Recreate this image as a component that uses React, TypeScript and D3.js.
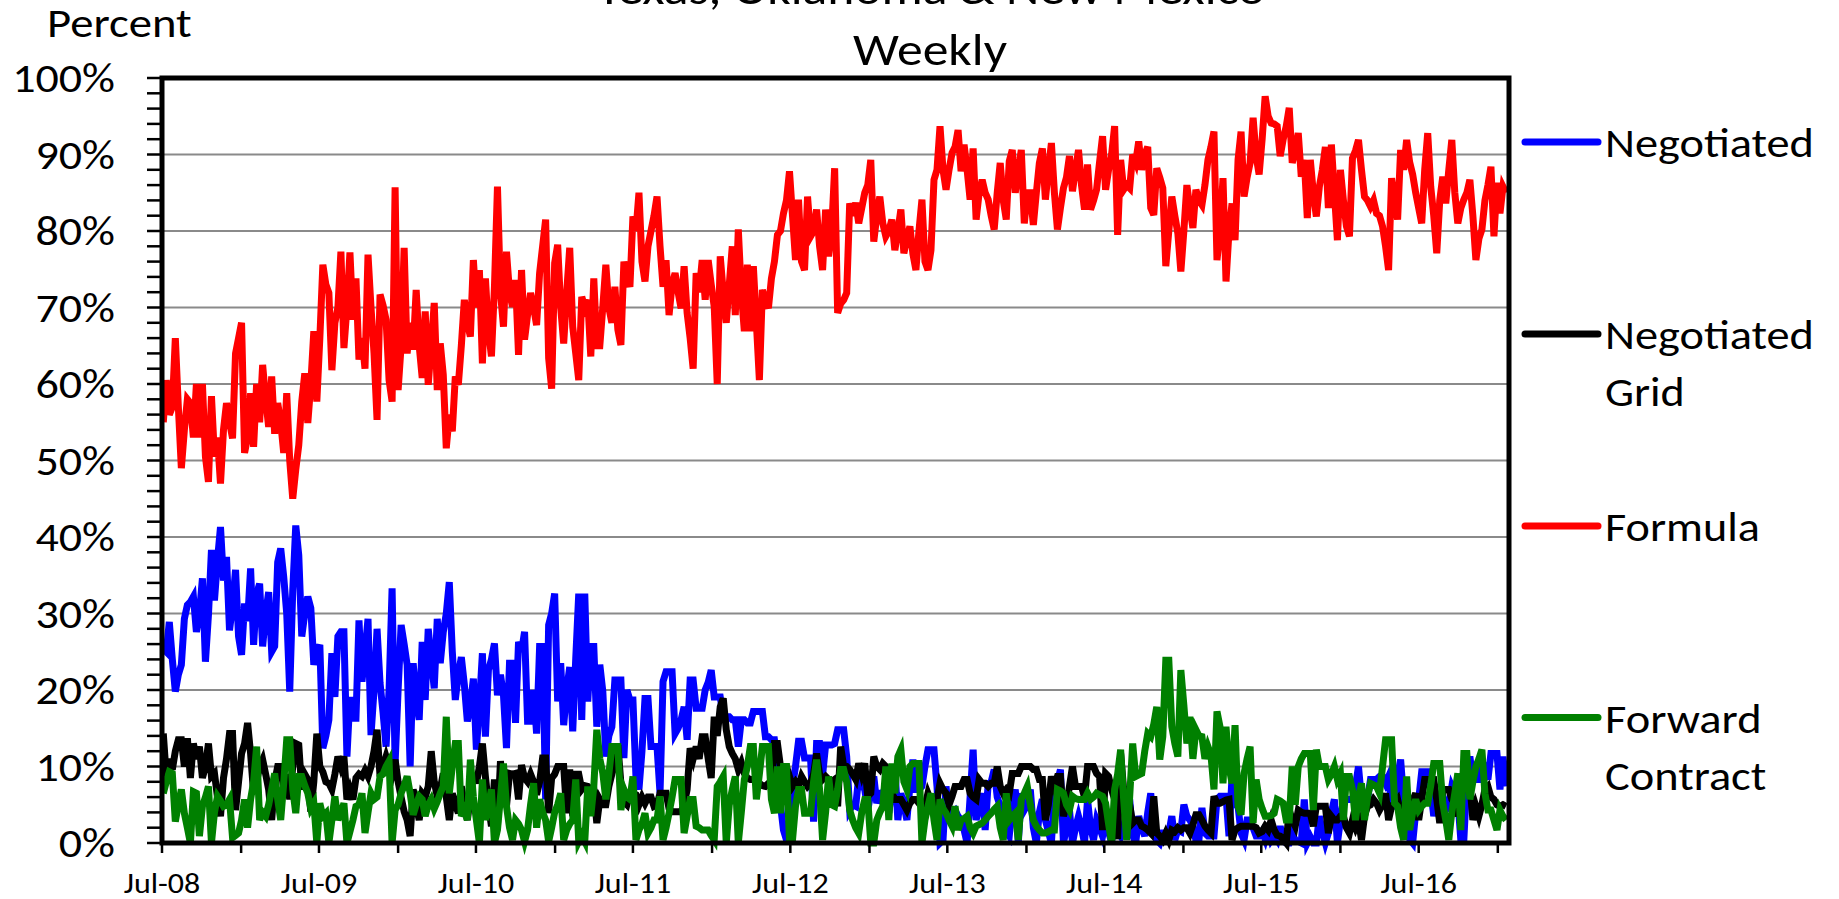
import React from "react";
import * as d3 from "d3";

// ---------------- DATA ----------------
const titleLines = ["Texas, Oklahoma & New Mexico", "Weekly"];
const yAxisTitle = "Percent";
const firstWeek = new Date(2008, 6, 4);
const xDomain: [Date, Date] = [new Date(2008, 6, 1), new Date(2017, 0, 27)];
const yTickValues = [0, 10, 20, 30, 40, 50, 60, 70, 80, 90, 100];
const seriesNames = ["Negotiated", "Negotiated Grid", "Formula", "Forward Contract"];
const legendLines = [["Negotiated"], ["Negotiated", "Grid"], ["Formula"], ["Forward", "Contract"]];
const seriesColors = ["#0000ff", "#000000", "#ff0000", "#008000"];

// weekly percentages, first week of July 2008 onward
const negotiated = [
  25.4, 25, 28.9, 24, 19.8, 22, 23.3, 29.3, 31.1, 31.5, 32.2, 27.6, 30, 34.6, 23.7, 29.8, 38.3, 31.7, 37, 41.3, 34.3, 37.4, 27.8, 31, 35.7, 27,
  24.6, 31.3, 29, 35.9, 25.9, 32.6, 33.9, 25.7, 30, 32.8, 25, 25.7, 36.7, 38.5, 34.8, 30, 19.8, 33, 41.5, 37.6, 27, 30, 32.2, 30.7, 23.3, 25,
  25.9, 12.4, 14, 16.1, 24.8, 19.1, 27, 27.6, 27.6, 11.3, 19.1, 16.3, 16.3, 29.1, 21.1, 25, 29.3, 14.1, 20, 28, 20.9, 17, 12.6, 20, 33.3, 10.4,
  20, 28.5, 26, 23.3, 10, 23.5, 19, 16.1, 26.3, 18.7, 28, 24, 20.2, 29.3, 23.5, 27.6, 30, 34.1, 25, 18.7, 22, 24.3, 20.7, 15.9, 18, 21.5,
  12.2, 18, 24.8, 13.9, 22.6, 24, 26.1, 19.3, 22, 19.3, 12.4, 23.5, 23.5, 15.7, 26.3, 25, 27.6, 15.9, 15.9, 20, 14.3, 25.7, 25.7, 5.7, 28.5, 30,
  32.6, 18.5, 23.5, 15.4, 20, 23, 14.6, 24.1, 32.6, 16.1, 32.6, 18.5, 25.7, 25.7, 15.2, 23.3, 19.8, 11.3, 14, 15.2, 21.3, 21.3, 21.3, 11.1, 20, 18.7,
  18.7, 8.7, 7, 12, 18.9, 18.9, 12.6, 12.6, 12.6, 6.5, 21.1, 22.4, 22.4, 22.4, 14.3, 15, 16.1, 17.8, 13.5, 21.3, 21.3, 17.6, 17.6, 17.6, 20, 21,
  22.6, 19.1, 19.1, 19.1, 16.5, 16.5, 16.5, 16.1, 16.1, 12.6, 16.1, 16.1, 15.7, 15.7, 17.2, 17.2, 17.2, 17.2, 13.9, 13.9, 13.5, 13.5, 10.4, 5, 1.7, 0.4,
  0.4, 7.4, 10, 13.3, 13.3, 11.1, 11.1, 11.1, 2.8, 13, 13, 8.9, 12.8, 12.8, 12.8, 13, 14.8, 14.8, 14.8, 11.3, 4.3, 5, 4.8, 8.7, 7.5, 7,
  4.3, 6.5, 8.7, 5.2, 6.5, 6.5, 7.4, 3.9, 7, 10, 3, 6.5, 5, 3, 7.4, 10.9, 7, 7, 7.4, 10, 12.2, 12.2, 12.2, 7.4, 0, 0.4,
  7.4, 3, 4, 4.3, 3.5, 3, 1.7, 0, 6, 12.2, 3, 5, 6.5, 1.7, 7.8, 8, 9.6, 6, 4.8, 1.7, 1.5, 0.9, 5, 7, 0, 6.5,
  4.3, 5, 7, 2, 0, 4, 5.7, 3, 1.5, 0, 6.5, 8, 9.6, 0, 2, 4.3, 0, 2, 3.5, 2, 0, 5.7, 2, 0.4, 3, 2,
  0.9, 3, 1.5, 0, 4.3, 1.5, 0.9, 2.2, 4, 5.7, 1, 0, 3.5, 2, 0.9, 4, 6.5, 1, 0.4, 0, 1.3, 1.3, 1.3, 3.5, 0.4, 1.7,
  1.5, 5, 3.5, 3, 2.2, 0.4, 0.4, 4.6, 1.3, 0.9, 0.9, 0.9, 5.7, 6.1, 6.1, 6.1, 0.9, 8.7, 5, 4.8, 1.3, 0.4, 3, 3, 2, 0.9,
  0.9, 1.5, 0.5, 2, 0.4, 1, 0.4, 2.2, 0.2, 0, 0, 1.2, 0.4, 0.2, 0, 5.7, 0, 0.8, 0, 0, 3.5, 1.5, 0, 1.3, 4, 5.7,
  0, 3, 5.7, 5.7, 5.7, 5.7, 7.4, 10, 5.7, 5.7, 5.7, 8.3, 8.3, 8.3, 8.7, 8.7, 7.8, 8.7, 4.8, 4.8, 8.7, 10.9, 5.7, 1.7, 0.5, 0,
  4, 5.7, 9.3, 9.3, 9.3, 7, 3.5, 5.7, 6, 6.1, 4.3, 5, 7.4, 6.5, 5.7, 0.4, 0.4, 8.3, 11.3, 8.3, 8.3, 8.3, 10.9, 9.5, 8.3, 11.7,
  11.7, 11.7, 7, 11.3, 7.4,
];

const negotiatedGrid = [
  14.3, 8.7, 11, 9.6, 12, 13.5, 13.5, 10, 13.7, 8.5, 13, 11, 12.6, 8.5, 10, 13, 8.7, 9.1, 6, 3.5, 8.5, 11, 14.3, 14.3, 4.3, 8,
  11.7, 13, 15.7, 11.7, 6.5, 8, 10, 10.9, 9, 7, 3, 8, 10, 10, 7, 9, 5.7, 10, 13, 12.8, 7, 9, 8.3, 4.1, 8, 14.3,
  10, 9.3, 8, 7.8, 7, 9, 11.3, 10, 11.3, 5.7, 7, 5.7, 8.5, 9, 8.7, 9.5, 8.7, 10, 12, 14.8, 8.7, 10, 11.3, 10, 9, 10.9,
  8, 6, 4.1, 3, 0.9, 7, 5, 3, 6.5, 6, 7.4, 12, 8, 6.1, 7, 9.1, 6, 3, 6.5, 5, 3.9, 7.4, 5, 3, 6, 9.1,
  7.8, 10, 13, 8.7, 5, 2.2, 8.3, 2.2, 10.7, 6, 4.8, 9.1, 9, 9.1, 5.7, 10.2, 8.5, 8, 9, 8, 6.3, 8, 11.1, 11.1, 3.9, 8.5,
  9, 10, 10, 10, 3.9, 9.6, 3.5, 9, 9, 7, 7.5, 7.4, 7, 7, 2.6, 5.7, 5, 5, 7.4, 9, 10.4, 12.8, 7.8, 5.4, 5, 6.5,
  6.5, 6.3, 5, 6, 5.2, 6, 6, 4.8, 5, 6.5, 6.5, 6.5, 4.5, 4.1, 4.1, 4.1, 4.1, 5, 7, 12.4, 11, 12.6, 11, 13.9, 13.9, 11,
  8.5, 16.5, 14, 17.8, 18.9, 14.8, 12.6, 11.7, 11, 9.6, 10.5, 9.1, 8.5, 8.3, 8.3, 8, 7.8, 7.5, 7.4, 7.8, 8, 13, 13, 10, 10, 10,
  8.7, 7.4, 8, 7.4, 8.7, 8, 7.4, 7.8, 9, 11.7, 9, 8.3, 8.7, 8.3, 8, 8.3, 4.8, 12.6, 10, 10, 9.6, 9, 8.3, 10.4, 9, 10.4,
  6.1, 6.5, 11.3, 10, 9.6, 10.4, 10, 7.4, 6.5, 5.7, 5.7, 5.7, 5, 4.3, 5.2, 5.7, 5.7, 5.2, 5.2, 4.8, 6.5, 5.5, 5.2, 5.7, 7.8, 7,
  6.5, 5, 6.1, 7.4, 7.4, 7.4, 8.3, 8.3, 6.5, 6, 5.7, 8.3, 7.8, 7.8, 7.4, 7.8, 7.8, 10, 7.4, 6.5, 7, 6.5, 9.1, 9.1, 9.1, 10,
  10, 10, 10, 9.6, 9.6, 8.3, 8.3, 3, 5, 8.7, 7.4, 8.7, 8.7, 3.5, 5, 7.4, 10, 7.4, 7.4, 7.4, 6, 10, 10, 10, 9.1, 8.7,
  1.7, 9.1, 8.7, 7, 5.7, 0.5, 11.7, 7, 7, 5, 2.6, 3, 3, 2.2, 2, 1.7, 1.3, 6.1, 1.3, 0.9, 0.4, 1.3, 0.4, 1.7, 1.5, 2,
  1.7, 2, 2, 1.3, 2.4, 3.7, 3.7, 3, 2.2, 1.7, 1.3, 6.1, 5.2, 5.2, 5.4, 5.6, 5.7, 0.4, 1.7, 2, 2.2, 2.2, 2.2, 2.2, 2.2, 2,
  1.3, 1.5, 2.2, 1.7, 3, 1.7, 1, 0.9, 0.5, 0, 4.3, 3, 2.2, 4.3, 4, 3.9, 3.9, 3.9, 2.2, 4.8, 4.8, 4.8, 4.8, 1.3, 3.5, 3,
  3, 3.5, 3.5, 2, 1.3, 3, 2, 3, 0.4, 3.5, 4.8, 5, 5.7, 5.2, 4.3, 5, 6.5, 3, 4.8, 5.2, 5.7, 4, 3, 6.1, 2.6, 5.5,
  6.5, 3, 5.7, 8.3, 8.3, 8.3, 8.3, 5.7, 2.6, 7, 7, 7, 5.7, 5.2, 3.5, 5.7, 8.3, 8, 7.8, 3, 4.8, 3.5, 5, 7, 7.4, 6,
  5.7, 5, 4.8, 5, 4.8,
];

const formula = [
  55, 60.5, 56, 57, 66, 57, 49, 54, 58, 57.5, 53, 60, 53, 60, 50.5, 47.2, 58.4, 50.5, 53, 47, 54, 57.5, 55, 52.9, 64, 66,
  68, 51, 53, 58.8, 51.8, 60, 55, 62.5, 58, 54.4, 61, 53.5, 57.5, 55, 51, 58.8, 50, 45, 48.8, 52, 57.7, 61.4, 54.9, 60, 66.9, 57.7,
  66, 75.6, 73, 71.9, 61.8, 68, 70, 77.3, 64.7, 70, 77.2, 68.4, 73.8, 63.2, 66, 62, 76.9, 70, 64, 55.3, 71.7, 70.3, 68.4, 60.5, 57.7, 85.7,
  59.2, 65, 77.8, 64, 68, 64.5, 72.3, 65, 60.8, 69.5, 59.9, 65, 70.6, 59.2, 65.3, 61.2, 51.6, 56, 53.8, 61, 59.9, 65, 71, 68, 66.2, 76.2,
  70, 74.9, 62.7, 73.8, 67, 63.6, 72.7, 85.8, 72, 67.5, 77.3, 72, 70.1, 73.6, 63.8, 74.9, 65.8, 69, 71.9, 70, 67.7, 74.5, 78, 81.5, 63.4, 59.4,
  75.8, 78.2, 70, 65.3, 72, 77.8, 67.5, 64, 60.5, 71.4, 70, 71, 63.6, 73.8, 65, 65, 70.1, 75.6, 70, 68, 72.7, 67.1, 65.1, 76, 74, 72.7,
  81.9, 80, 85, 76, 73.4, 78, 80, 82, 84.5, 78, 72.7, 76.2, 69, 73, 74.5, 72, 69.9, 75.4, 69.3, 66, 62, 74.5, 72, 76.2, 71, 76.2,
  73, 70.1, 60, 76.7, 72, 68, 73, 78, 69, 80.2, 72, 66.9, 75.6, 66.9, 75.4, 68, 60.5, 72.3, 71, 69.9, 73.8, 76, 79.5, 80, 82.3, 84,
  87.8, 82, 76.2, 84.1, 76, 74.9, 84.5, 79.3, 80, 82.8, 78, 74.9, 82.8, 76.7, 80, 88.2, 69.3, 70.5, 71, 71.9, 83.6, 82, 83.7, 81, 83, 85,
  86, 89.3, 78.6, 82, 84.5, 81, 79.3, 80, 81.5, 77.5, 80, 82.8, 77.1, 79, 80.6, 77, 74.9, 80, 84.1, 76, 74.9, 77.5, 86.7, 88, 93.7, 88,
  85.4, 88, 90.2, 91, 93.2, 87.8, 91.3, 88, 84.1, 90.8, 81.5, 85, 86.7, 85, 84.1, 82, 80.2, 85, 88.9, 84, 81.5, 89.1, 90.6, 85, 88, 90.6,
  81, 85, 85, 80.8, 85, 88.9, 90.8, 84.1, 88, 91.5, 85, 80.2, 83, 85.6, 87, 89.8, 85.2, 88, 90.6, 86, 82.8, 88.7, 82.8, 84, 85.4, 89,
  92.4, 85.4, 88, 90, 93.7, 79.5, 89.3, 85.4, 86, 85.6, 90, 89, 91.7, 88, 90, 91, 83, 82.1, 88.2, 87, 85.6, 75.4, 80, 84.5, 82, 79.7,
  74.7, 80, 86, 83, 80.4, 85.4, 84, 83.4, 86, 89.3, 91, 93, 76.2, 80, 86.9, 73.4, 80, 83.6, 78.8, 89.3, 93, 84.5, 87, 88.9, 94.8, 89.8,
  87.4, 92, 97.6, 95, 94.1, 94, 93.7, 89.8, 92, 93.7, 96.1, 88.9, 90.5, 92.8, 87.1, 89.3, 81.7, 89.3, 85, 81.9, 85.8, 88, 91, 83, 91.3, 85,
  78.8, 88, 84, 80.6, 79.3, 89.5, 90.5, 91.9, 88, 84.5, 84, 83.2, 84, 82.3, 82, 80.6, 78, 74.9, 86.9, 84, 81.5, 90.6, 88, 91.9, 89, 87.4,
  85, 83, 81, 88, 92.8, 85.8, 82, 77.1, 84, 87.1, 83.6, 88, 91.9, 85, 81, 83, 84.1, 85, 86.7, 82, 76.2, 79, 80.2, 84, 86, 88.4,
  79.3, 86.3, 82.3, 85.8, 85,
];

const forwardContract = [
  6.5, 8, 9.3, 9.1, 2.8, 5, 7, 3.9, 2, 0, 6.7, 6.5, 0.9, 4.8, 6, 7.4, 0, 4, 6.1, 5.5, 4.8, 5, 5.7, 0.7, 1, 1.3,
  3, 5.7, 2, 5.7, 8, 12.6, 3, 4, 3.5, 5, 7, 9.1, 5.7, 3, 7.8, 13.5, 13.5, 7, 3.9, 8.7, 8.7, 7.5, 6.5, 4.5, 5.2, 0,
  5.2, 3.5, 3.9, 0, 3, 6.1, 3, 4, 5.2, 0, 1.5, 3, 4.8, 5, 6.5, 1.3, 4, 6.5, 5.7, 6, 8.7, 9, 10, 10.7, 0, 4.3,
  5, 6.5, 7.5, 8.7, 6.5, 3.7, 5, 6.1, 5.7, 3.5, 5, 5.7, 4.5, 5.4, 6.5, 7.4, 16.5, 6.5, 10, 13, 13, 3.5, 4.3, 3, 10.9, 6,
  3, 0, 8.3, 3, 5, 7, 0, 1.7, 6, 10.4, 4.8, 2, 0.4, 3, 2.5, 1.7, 0.2, 1.7, 5, 7.8, 2, 5.7, 4, 3, 0.2, 2,
  4, 5, 6.5, 0.4, 1.7, 2.5, 3, 8.3, 0.2, 1, 0.2, 7.4, 3.5, 7.4, 14.8, 11, 9.1, 5.7, 9, 12.6, 12.6, 12.6, 4.3, 7, 6, 5.7,
  8.7, 0.4, 1.7, 2.5, 3.9, 1.3, 2, 3, 3, 6.1, 0.4, 2, 3.9, 6, 8.3, 8.3, 8.3, 1.3, 3.5, 5.7, 5.7, 2.2, 2, 1.7, 1.7, 1.7,
  1, 0.4, 7.4, 8, 8.7, 0, 5, 7, 8.7, 0, 4, 8.3, 10, 12.6, 12.6, 5.7, 9, 12.6, 12.6, 12.6, 5.7, 3.9, 10, 3.9, 10, 10,
  0.4, 0.4, 4.8, 7, 7, 3.9, 3.9, 3.9, 8, 10.9, 7, 0.4, 4, 8.7, 5, 4.8, 7, 9.6, 9.6, 8, 4.3, 3, 2, 1.3, 4, 5.7,
  5.7, 0, 0, 3, 4, 4.8, 10, 3, 10.4, 6.5, 11.3, 12.2, 8, 7, 10, 10.4, 10.4, 10.4, 0, 3, 4.8, 6.5, 3, 0.4, 5.7, 4.5,
  3.9, 3, 2.2, 4.8, 1.7, 3, 3.2, 3.5, 2, 1.3, 2.2, 2.4, 2.6, 3, 3.5, 3.9, 4.4, 4.8, 2, 0.4, 6.5, 3, 3.5, 3.9, 0.4, 5.7,
  6.5, 7.4, 5, 3, 2.2, 1.7, 1.3, 1.3, 1.5, 1.7, 1.7, 7, 6.8, 6.5, 5, 4.3, 6.1, 5.8, 5.7, 5.7, 5.7, 6.5, 5.7, 6, 6.5, 6.3,
  6.1, 5.2, 2.5, 0, 7, 9, 12.2, 5.7, 0.4, 6, 13, 8.7, 8.9, 9.1, 12, 14.3, 13.9, 15.5, 17.8, 10.9, 13.9, 23.9, 23.9, 15.2, 13, 11.3,
  22.6, 18, 13, 16.5, 11, 14.8, 14, 13.9, 11, 12.6, 11.5, 7, 17.2, 15.2, 7.8, 15.2, 10, 7.8, 15.4, 4.8, 3.7, 9.1, 11, 12.6, 2.6, 8.3,
  5.7, 4.5, 3.5, 3.5, 3.6, 3.9, 5.7, 5.5, 5.2, 3, 3, 10, 5, 10, 11, 11.7, 11.7, 11.7, 4.3, 12.2, 10, 10, 10, 8.3, 9, 10,
  8.3, 9.1, 3, 8.7, 8.7, 7, 3, 6, 7.8, 3, 6, 7.8, 7.6, 7.4, 6.5, 10, 13.5, 13.5, 13.5, 5.2, 4.8, 2, 0.4, 8.7, 1.7, 4,
  5.7, 4.3, 4.8, 5.2, 5.2, 7.5, 10.4, 10.4, 10.4, 5.2, 3, 0.4, 4, 6.5, 9.1, 1.7, 11.7, 11.7, 5.7, 8, 10, 11, 12.2, 6.5, 4.3, 4.3,
  3, 1.7, 4.3, 3.5, 3,
];

const seriesValues = [negotiated, negotiatedGrid, formula, forwardContract];

// ---------------- STYLE ----------------
const FONT = "Calibri, Carlito, Lato, 'Open Sans', sans-serif";
const SIZE_FACTOR = 0.9; // Lato cap height vs Calibri
const CW: Record<string, number> = {
  "0": 0.507, "1": 0.507, "2": 0.507, "3": 0.507, "4": 0.507, "5": 0.507, "6": 0.507, "7": 0.507, "8": 0.507, "9": 0.507,
  "%": 0.715, "-": 0.306, " ": 0.226, ",": 0.25, "&": 0.682,
  J: 0.319, P: 0.517, W: 0.89, N: 0.646, G: 0.631, F: 0.459, C: 0.533, T: 0.487, O: 0.662, M: 0.855,
  a: 0.479, c: 0.423, d: 0.525, e: 0.498, g: 0.471, h: 0.525, i: 0.229, k: 0.455, l: 0.229, m: 0.799,
  n: 0.525, o: 0.527, r: 0.349, s: 0.391, t: 0.335, u: 0.525, w: 0.715, x: 0.433, y: 0.453, b: 0.525,
};
const textW = (s: string, size: number) => s.split("").reduce((a, ch) => a + (CW[ch] ?? 0.5), 0) * size;

function T(props: { x: number; y: number; size: number; text: string; anchor?: "start" | "middle" | "end" }) {
  const { x, y, size, text, anchor = "start" } = props;
  return (
    <text
      x={x}
      y={y}
      fontFamily={FONT}
      fontSize={size * SIZE_FACTOR}
      textAnchor={anchor}
      textLength={textW(text, size)}
      lengthAdjust="spacingAndGlyphs"
      fill="#000"
    >
      {text}
    </text>
  );
}

export default function App() {
  const W = 1839;
  const H = 899;
  const left = 162;
  const right = 1509;
  const top = 78;
  const bottom = 843;

  const x = d3.scaleTime().domain(xDomain).range([left, right]);
  const y = d3.scaleLinear().domain([0, 100]).range([bottom, top]);
  const dates = negotiated.map((_, i) => d3.timeWeek.offset(firstWeek, i));
  const line = d3
    .line<number>()
    .x((_, i) => x(dates[i]))
    .y((d) => y(d));

  const xTicks = d3.timeMonth.every(6)!.range(xDomain[0], xDomain[1]);
  const fmt = d3.timeFormat("%b-%y");
  const minorY = d3.range(0, 101, 2);

  const legendY = [142, 334, 526, 717.5];

  return (
    <svg
      width={W}
      height={H}
      viewBox={`0 0 ${W} ${H}`}
      style={{ position: "absolute", left: 0, top: 0, display: "block", background: "#fff" }}
    >
      <rect x={0} y={0} width={W} height={H} fill="#fff" />

      {/* titles */}
      <T x={931} y={4} size={51} text={titleLines[0]} anchor="middle" />
      <T x={930} y={65} size={51} text={titleLines[1]} anchor="middle" />
      <T x={47} y={36.7} size={46} text={yAxisTitle} />

      {/* gridlines */}
      {yTickValues
        .filter((v) => v > 0 && v < 100)
        .map((v) => (
          <line key={"g" + v} x1={left} x2={right} y1={y(v)} y2={y(v)} stroke="#8a8a8a" strokeWidth={2} />
        ))}

      {/* series */}
      {seriesValues.map((vals, k) => (
        <path
          key={seriesNames[k]}
          d={line(vals) || ""}
          fill="none"
          stroke={seriesColors[k]}
          strokeWidth={7}
          strokeLinejoin="miter"
          strokeMiterlimit={4}
        />
      ))}

      {/* frame */}
      <rect x={left} y={top} width={right - left} height={bottom - top} fill="none" stroke="#000" strokeWidth={5} />

      {/* y ticks */}
      {minorY.map((v) => (
        <line key={"yt" + v} x1={147} x2={left} y1={y(v)} y2={y(v)} stroke="#000" strokeWidth={2.5} />
      ))}
      {yTickValues.map((v) => (
        <T key={"yl" + v} x={115} y={y(v) + 14.3} size={46} text={`${v}%`} anchor="end" />
      ))}

      {/* x ticks */}
      {xTicks.map((d) => (
        <line key={"xt" + d.getTime()} x1={x(d)} x2={x(d)} y1={bottom} y2={bottom + 10} stroke="#000" strokeWidth={2.5} />
      ))}
      {xTicks
        .filter((d) => d.getMonth() === 6)
        .map((d) => (
          <T key={"xl" + d.getTime()} x={x(d)} y={893} size={32} text={fmt(d)} anchor="middle" />
        ))}

      {/* legend */}
      {seriesNames.map((name, k) => (
        <g key={"lg" + name}>
          <line
            x1={1525}
            x2={1598}
            y1={legendY[k]}
            y2={legendY[k]}
            stroke={seriesColors[k]}
            strokeWidth={7}
            strokeLinecap="round"
          />
          {legendLines[k].map((t, j) => (
            <T key={t + j} x={1605} y={legendY[k] + 15 + j * 57.3} size={46} text={t} />
          ))}
        </g>
      ))}
    </svg>
  );
}
